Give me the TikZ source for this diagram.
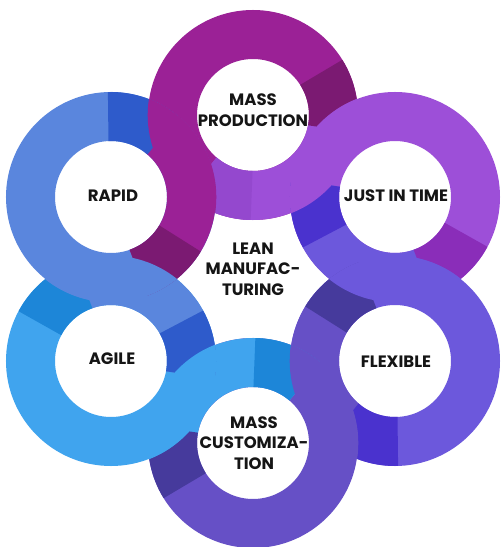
\documentclass[tikz,border=0pt]{standalone}
\usepackage{fontspec}
\newfontfamily\labelfont{Poppins}
\definecolor{mpC}{HTML}{9B2196}
\definecolor{mpD}{HTML}{7B1A72}
\definecolor{mpPD}{HTML}{9448CE}
\definecolor{jitC}{HTML}{9D4FD8}
\definecolor{jitD}{HTML}{8A2DB9}
\definecolor{flxC}{HTML}{6C58DC}
\definecolor{flxD}{HTML}{4A32CE}
\definecolor{mcC}{HTML}{6650C6}
\definecolor{mcD}{HTML}{463A9C}
\definecolor{agC}{HTML}{40A4EE}
\definecolor{agD}{HTML}{1D86D8}
\definecolor{rapC}{HTML}{5A86DD}
\definecolor{rapD}{HTML}{2E5BCB}
\definecolor{txtC}{HTML}{151515}
\tikzset{
  ringline/.style={line width=49pt},
  lbl/.style={font={\labelfont\bfseries\fontsize{16.5pt}{20.5pt}\selectfont}, align=center, text=txtC, inner sep=0pt}
}
% #1 centre, #2 direction, #3 own colour, #4 own dark, #5 previous band colour, #6 previous band dark
\newcommand{\paintring}[6]{%
  \draw[ringline,draw=#3] (#1) circle[radius=80.5];
  \draw[ringline,draw=#5] (#1) ++(#2+140:80.5) arc[start angle=#2+140,end angle=#2+262,radius=80.5];
  \draw[ringline,draw=#6] (#1) ++(#2+140:80.5) arc[start angle=#2+140,end angle=#2+179,radius=80.5];
  \draw[ringline,draw=#4] (#1) ++(#2-100:80.5) arc[start angle=#2-100,end angle=#2-58,radius=80.5];
}
% overlap of two neighbouring rings, shown in the colour of the band that runs through it
\newcommand{\lensfill}[3]{%
  \begin{scope}
    \clip (#1) circle[radius=105.3];
    \fill[#3] (#2) circle[radius=105.3];
  \end{scope}
}
\begin{document}
\begin{tikzpicture}[x=1pt,y=1pt]
\fill[white] (0,0) rectangle (502,547);
\useasboundingbox (0,0) rectangle (502,547);
\coordinate (MP) at (253,432);
\coordinate (JIT) at (395,350);
\coordinate (FLX) at (395,186);
\coordinate (MC) at (253,104);
\coordinate (AG) at (111,186);
\coordinate (RAP) at (111,350);
\paintring{MP}{90}{mpC}{mpD}{jitC}{mpPD}
\paintring{JIT}{30}{jitC}{jitD}{flxC}{flxD}
\paintring{FLX}{330}{flxC}{flxD}{mcC}{mcD}
\paintring{MC}{270}{mcC}{mcD}{agC}{agD}
\paintring{AG}{210}{agC}{agD}{rapC}{rapD}
\paintring{RAP}{150}{rapC}{rapD}{mpC}{mpD}
\lensfill{JIT}{MP}{jitC}
\lensfill{MP}{RAP}{mpC}
\lensfill{RAP}{AG}{rapC}
\lensfill{AG}{MC}{agC}
\lensfill{MC}{FLX}{mcC}
\lensfill{FLX}{JIT}{flxC}
\node[lbl] (tMP) at (253,437) {MASS\\PRODUCTION};
\node[lbl] (tRAP) at (113,351) {RAPID};
\node[lbl] (tJIT) at (396,351) {JUST IN TIME};
\node[lbl] (tAG) at (112,188) {AGILE};
\node[lbl] (tFLX) at (396,185) {FLEXIBLE};
\node[lbl] (tMC) at (254,104) {MASS\\CUSTOMIZA-\\TION};
\node[lbl] (tLEAN) at (253,278) {LEAN\\MANUFAC-\\TURING};
\end{tikzpicture}
\end{document}
